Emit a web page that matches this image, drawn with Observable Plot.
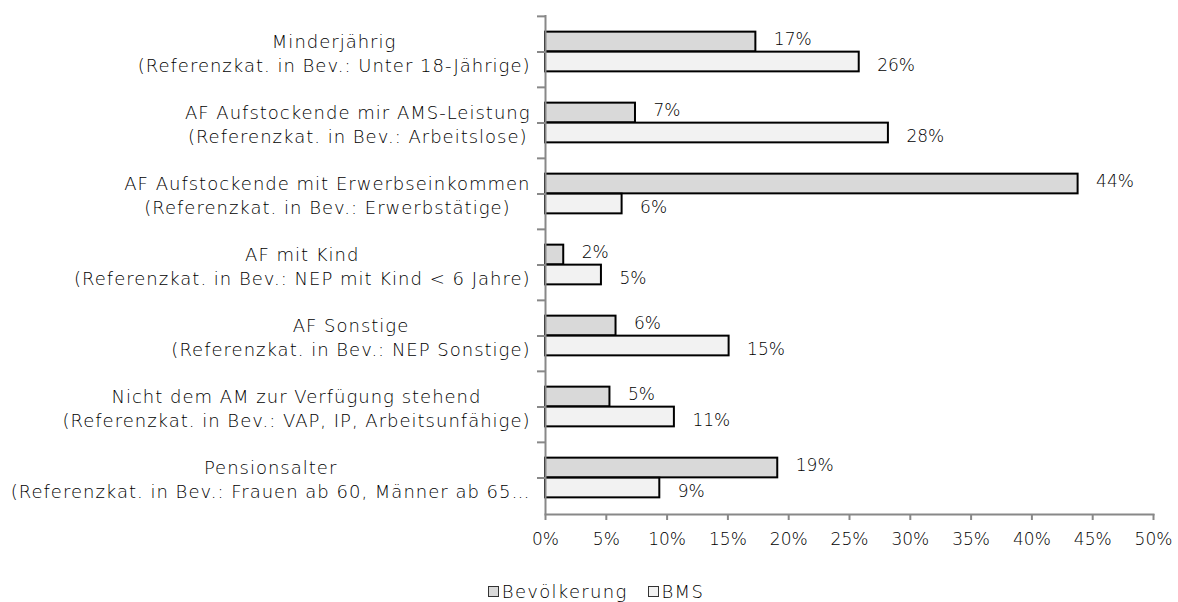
<!DOCTYPE html>
<html><head><meta charset="utf-8">
<script src="https://cdn.jsdelivr.net/npm/d3@7"></script>
<script src="https://cdn.jsdelivr.net/npm/@observablehq/plot@0.6"></script>
<style>
body{margin:0;background:#fff;font-family:"DejaVu Sans",sans-serif;}
#legend{width:1178px;display:flex;justify-content:center;align-items:center;padding-left:34px;box-sizing:border-box;font-size:18px;letter-spacing:1.3px;color:#000;height:26px;margin-top:13px;font-weight:300;}
#legend .it{display:flex;align-items:center;margin-right:20px;}
#legend .sw{width:9px;height:9px;border:1.5px solid #333;margin-right:3px;}
</style></head>
<body>
<div id="chart"></div>
<div id="legend"></div>
<script>
const categories = ["Minderjährig","AF Aufstockende mir AMS-Leistung","AF Aufstockende mit Erwerbseinkommen","AF mit Kind","AF Sonstige","Nicht dem AM zur Verfügung stehend","Pensionsalter"];
const subLabels = ["(Referenzkat. in Bev.: Unter 18-Jährige)","(Referenzkat. in Bev.: Arbeitslose)","(Referenzkat. in Bev.: Erwerbstätige)","(Referenzkat. in Bev.: NEP mit Kind < 6 Jahre)","(Referenzkat. in Bev.: NEP Sonstige)","(Referenzkat. in Bev.: VAP, IP, Arbeitsunfähige)","(Referenzkat. in Bev.: Frauen ab 60, Männer ab 65…"];
const bevoelkerung = [17.3, 7.4, 43.8, 1.5, 5.8, 5.3, 19.1];
const bms = [25.8, 28.2, 6.3, 4.6, 15.1, 10.6, 9.4];
const xTicks = [0,5,10,15,20,25,30,35,40,45,50];
const seriesNames = ["Bevölkerung","BMS"];
const seriesColors = ["#d9d9d9","#f2f2f2"];

const H = 565, mTop = 15, mBottom = 51;
const band = (H - mTop - mBottom) / categories.length;
const barH = 20;
const bevData = categories.map((c,i)=>({c, v: bevoelkerung[i]}));
const bmsData = categories.map((c,i)=>({c, v: bms[i]}));
const fmt = v => Math.round(v) + "%";
const font = "DejaVu Sans";
const ink = "#000";

const chart = Plot.plot({
  width: 1178, height: H,
  marginLeft: 545, marginRight: 25, marginTop: mTop, marginBottom: mBottom,
  style: {fontFamily: font, fontSize: "17px", fontWeight: 300, color: ink, background: "#fff"},
  x: {domain: [0, 50]},
  y: {domain: categories, padding: 0, axis: null},
  marks: [
    Plot.barX(bevData, {y: "c", x: "v", fill: seriesColors[0], stroke: "#000", strokeWidth: 2,
      insetTop: band/2 - barH, insetBottom: band/2}),
    Plot.text(bevData, {y: "c", x: "v", text: d => fmt(d.v), textAnchor: "start", dx: 18, dy: -12, fill: ink, fontWeight: 300}),
    Plot.barX(bmsData, {y: "c", x: "v", fill: seriesColors[1], stroke: "#000", strokeWidth: 2,
      insetTop: band/2, insetBottom: band/2 - barH}),
    Plot.text(bmsData, {y: "c", x: "v", text: d => fmt(d.v), textAnchor: "start", dx: 18, dy: 14, fill: ink, fontWeight: 300}),
    Plot.ruleX([0], {stroke: "#888", strokeWidth: 2}),
    Plot.frame({anchor: "bottom", stroke: "#888", strokeWidth: 2}),
    Plot.axisX({ticks: xTicks, tickFormat: d => d + "%", tickSize: 6, tickPadding: 12, stroke: "#888", strokeWidth: 2, fill: ink, fontWeight: 300, label: null}),
    Plot.axisY({ticks: categories, tickSize: 8, tickFormat: () => "", stroke: "#888", strokeWidth: 2, dy: -band/2, label: null}),
    Plot.axisY({ticks: categories, tickSize: 8, tickFormat: () => "", stroke: "#888", strokeWidth: 2, label: null}),
    Plot.text(categories, {y: d => d, x: () => 0, text: (d,i) => d + "\n" + subLabels[i],
      textAnchor: "end", dx: -15, lineHeight: 1.35, fill: ink, fontSize: 18, fontWeight: 300,
      ariaLabel: "category-labels"})
  ]
});
document.getElementById("chart").append(chart);

chart.querySelectorAll("text").forEach(t => {
  const spans = t.querySelectorAll("tspan");
  if (spans.length < 2) return;
  t.style.letterSpacing = "1px";
  let W = 0;
  spans.forEach(s => { W = Math.max(W, s.getComputedTextLength()); });
  t.setAttribute("text-anchor", "middle");
  t.style.textAnchor = "middle";
  spans.forEach(s => { s.setAttribute("x", -W/2); s.style.textAnchor = "middle"; });
});

const lg = document.getElementById("legend");
seriesNames.forEach((n,i) => {
  const it = document.createElement("div"); it.className = "it";
  const sw = document.createElement("div"); sw.className = "sw"; sw.style.background = seriesColors[i];
  const tx = document.createElement("span"); tx.textContent = n;
  it.append(sw, tx); lg.append(it);
});
</script>
</body></html>
